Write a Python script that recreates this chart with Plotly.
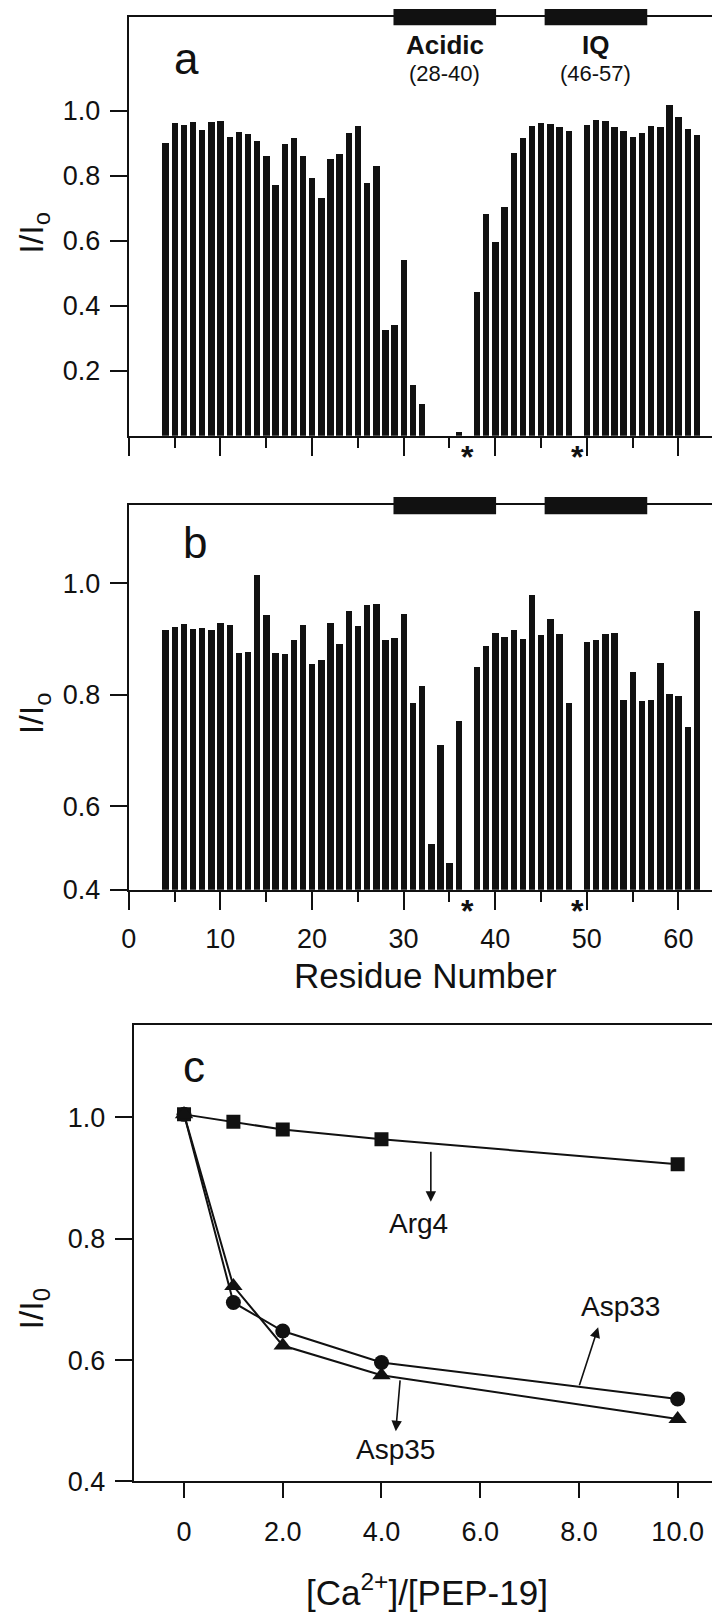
import plotly.graph_objects as go

# ---------------- data ----------------
residues_a = [4, 5, 6, 7, 8, 9, 10, 11, 12, 13, 14, 15, 16, 17, 18, 19, 20, 21, 22, 23,
              24, 25, 26, 27, 28, 29, 30, 31, 32, 36, 38, 39, 40, 41, 42, 43, 44, 45,
              46, 47, 48, 50, 51, 52, 53, 54, 55, 56, 57, 58, 59, 60, 61, 62]
values_a = [0.902, 0.963, 0.958, 0.966, 0.941, 0.965, 0.969, 0.920, 0.934, 0.930,
            0.908, 0.860, 0.771, 0.899, 0.917, 0.862, 0.794, 0.731, 0.851, 0.866,
            0.931, 0.954, 0.777, 0.831, 0.325, 0.340, 0.542, 0.157, 0.099, 0.012,
            0.443, 0.684, 0.595, 0.703, 0.869, 0.918, 0.954, 0.963, 0.961, 0.949,
            0.937, 0.958, 0.972, 0.969, 0.951, 0.938, 0.921, 0.933, 0.954, 0.949,
            1.019, 0.982, 0.945, 0.925]

residues_b = [4, 5, 6, 7, 8, 9, 10, 11, 12, 13, 14, 15, 16, 17, 18, 19, 20, 21, 22, 23,
              24, 25, 26, 27, 28, 29, 30, 31, 32, 33, 34, 35, 36, 38, 39, 40, 41, 42,
              43, 44, 45, 46, 47, 48, 50, 51, 52, 53, 54, 55, 56, 57, 58, 59, 60, 61, 62]
values_b = [0.915, 0.921, 0.926, 0.918, 0.919, 0.916, 0.928, 0.925, 0.875, 0.877,
            1.014, 0.942, 0.875, 0.873, 0.898, 0.925, 0.854, 0.862, 0.928, 0.891,
            0.950, 0.923, 0.961, 0.963, 0.897, 0.902, 0.944, 0.784, 0.815, 0.531,
            0.709, 0.498, 0.752, 0.849, 0.887, 0.910, 0.903, 0.915, 0.900, 0.979,
            0.906, 0.935, 0.908, 0.784, 0.894, 0.897, 0.909, 0.911, 0.790, 0.840,
            0.788, 0.790, 0.856, 0.801, 0.797, 0.742, 0.950]

asterisk_residues = [37, 49]

domain_names = ["Acidic", "IQ"]
domain_ranges = ["(28-40)", "(46-57)"]
domain_spans = [[28.9, 40.1], [45.4, 56.6]]

ratio = [0, 1, 2, 4, 10]
arg4 = [1.005, 0.993, 0.980, 0.964, 0.923]
asp33 = [1.005, 0.695, 0.648, 0.596, 0.536]
asp35 = [1.005, 0.722, 0.624, 0.575, 0.503]

ya_ticks = [0.2, 0.4, 0.6, 0.8, 1.0]
ya_text = ["0.2", "0.4", "0.6", "0.8", "1.0"]
yb_ticks = [0.45, 0.6, 0.8, 1.0]
yb_text = ["0.4", "0.6", "0.8", "1.0"]
yc_ticks = [0.4, 0.6, 0.8, 1.0]
yc_text = ["0.4", "0.6", "0.8", "1.0"]
xc_ticks = [0, 2, 4, 6, 8, 10]
xc_text = ["0", "2.0", "4.0", "6.0", "8.0", "10.0"]

# arrow annotations in panel c: label, head (x,y), tail (x,y), text position (x,y)
arrow_labels = ["Arg4", "Asp33", "Asp35"]
arrow_heads = [(5.0, 0.861), (8.39, 0.654), (4.29, 0.483)]
arrow_tails = [(5.0, 0.946), (8.0, 0.556), (4.38, 0.569)]
label_pos = [(4.75, 0.825), (8.85, 0.688), (4.29, 0.452)]

# ---------------- layout helpers ----------------
W, H = 720, 1616
FONT = "Liberation Sans, Arial, Helvetica, sans-serif"
BLACK = "#111111"


def px(y):
    return 1 - y / H


fig = go.Figure()

bar_style = dict(width=0.7, marker=dict(color=BLACK, line=dict(width=0)), showlegend=False,
                 hoverinfo="x+y")
fig.add_trace(go.Bar(x=residues_a, y=values_a, xaxis="x", yaxis="y", **bar_style))
fig.add_trace(go.Bar(x=residues_b, y=values_b, xaxis="x2", yaxis="y2", **bar_style))

line_style = dict(color=BLACK, width=2)
fig.add_trace(go.Scatter(x=ratio, y=arg4, mode="lines+markers", xaxis="x3", yaxis="y3",
                         line=line_style, marker=dict(symbol="square", size=14, color=BLACK),
                         name="Arg4"))
fig.add_trace(go.Scatter(x=ratio, y=asp33, mode="lines+markers", xaxis="x3", yaxis="y3",
                         line=line_style, marker=dict(symbol="circle", size=15, color=BLACK),
                         name="Asp33"))
fig.add_trace(go.Scatter(x=ratio, y=asp35, mode="lines+markers", xaxis="x3", yaxis="y3",
                         line=line_style, marker=dict(symbol="triangle-up", size=16, color=BLACK),
                         name="Asp35"))

axis_common = dict(showline=True, linewidth=2, linecolor=BLACK, mirror=True, showgrid=False,
                   zeroline=False, ticks="outside", tickwidth=2, tickcolor=BLACK,
                   tickfont=dict(family=FONT, size=27, color=BLACK))

xab = dict(range=[0, 65.2], tickmode="linear", tick0=0, dtick=10, ticklen=18,
           minor=dict(ticks="outside", ticklen=10, tickwidth=2, tickcolor=BLACK,
                      tick0=0, dtick=5))

fig.update_layout(
    width=W, height=H,
    margin=dict(l=0, r=0, t=0, b=0),
    paper_bgcolor="white", plot_bgcolor="white",
    showlegend=False,
    bargap=0,
    font=dict(family=FONT, size=26, color=BLACK),
    xaxis=dict(domain=[114 / W, 718 / W], anchor="y", showticklabels=False, **xab, **axis_common),
    yaxis=dict(domain=[px(431.7), px(9)], anchor="x", range=[0, 1.289], tickmode="array",
               tickvals=ya_ticks, ticktext=ya_text, ticklen=17, ticklabelstandoff=4,
               **axis_common),
    xaxis2=dict(domain=[114 / W, 718 / W], anchor="y2", showticklabels=True,
                ticklabelstandoff=6, **xab, **axis_common),
    yaxis2=dict(domain=[px(890), px(502)], anchor="x2", range=[0.45, 1.14], tickmode="array",
                tickvals=yb_ticks, ticktext=yb_text, ticklen=17, ticklabelstandoff=4,
                **axis_common),
    xaxis3=dict(domain=[119 / W, 716 / W], anchor="y3", range=[-1.02, 10.94], tickmode="array",
                tickvals=xc_ticks, ticktext=xc_text, ticklen=15, ticklabelstandoff=10,
                **axis_common),
    yaxis3=dict(domain=[px(1487.3), px(1026.7)], anchor="x3", range=[0.4, 1.152],
                tickmode="array", tickvals=yc_ticks, ticktext=yc_text, ticklen=17,
                ticklabelstandoff=4, **axis_common),
)

shapes = []
annotations = []

# domain bars on top border of panels a and b
for xr, (ytop, ybot) in (("x", (1, 17.5)), ("x2", (493.5, 511))):
    for span in domain_spans:
        shapes.append(dict(type="rect", xref=xr, yref="paper", x0=span[0], x1=span[1],
                           y0=px(ybot), y1=px(ytop), fillcolor=BLACK, line=dict(width=0),
                           layer="above"))

# domain labels (panel a)
for name, rng, span in zip(domain_names, domain_ranges, domain_spans):
    mid = (span[0] + span[1]) / 2
    annotations.append(dict(xref="x", yref="paper", x=mid, y=px(37), text="<b>%s</b>" % name,
                            showarrow=False, font=dict(family=FONT, size=26, color=BLACK),
                            xanchor="center", yanchor="middle"))
    annotations.append(dict(xref="x", yref="paper", x=mid, y=px(66), text=rng,
                            showarrow=False, font=dict(family=FONT, size=22, color=BLACK),
                            xanchor="center", yanchor="middle"))

# asterisks
for xr, ypix in (("x", 453), ("x2", 911)):
    for r in asterisk_residues:
        annotations.append(dict(xref=xr, yref="paper", x=r, y=px(ypix), text="<b>*</b>",
                                showarrow=False, font=dict(family=FONT, size=32, color=BLACK),
                                xanchor="center", yanchor="middle"))

# panel letters
for letter, (lx, ly) in zip(["a", "b", "c"], [(172, 51), (181, 540), (180, 1068)]):
    annotations.append(dict(xref="paper", yref="paper", x=lx / W, y=px(ly), text=letter,
                            showarrow=False, font=dict(family=FONT, size=44, color=BLACK),
                            xanchor="center", yanchor="middle"))

# y axis titles
for t, ly in (("I/I<sub>o</sub>", 227), ("I/I<sub>o</sub>", 712), ("I/I<sub>0</sub>", 1313)):
    annotations.append(dict(xref="paper", yref="paper", x=18 / W, y=px(ly), text=t,
                            textangle=-90, showarrow=False,
                            font=dict(family=FONT, size=34, color=BLACK),
                            xanchor="center", yanchor="middle"))

# x axis titles
annotations.append(dict(xref="paper", yref="paper", x=414 / W, y=px(977), text="Residue Number",
                        showarrow=False, font=dict(family=FONT, size=35, color=BLACK),
                        xanchor="center", yanchor="middle"))
annotations.append(dict(xref="paper", yref="paper", x=416 / W, y=px(1597),
                        text="[Ca<sup>2+</sup>]/[PEP-19]",
                        showarrow=False, font=dict(family=FONT, size=35, color=BLACK),
                        xanchor="center", yanchor="middle"))

# panel c arrows + labels
for lab, head, tail, lp in zip(arrow_labels, arrow_heads, arrow_tails, label_pos):
    annotations.append(dict(xref="x3", yref="y3", x=head[0], y=head[1], ax=tail[0], ay=tail[1],
                            axref="x3", ayref="y3", text="", showarrow=True, arrowhead=2,
                            arrowsize=1.3, arrowwidth=1.6, arrowcolor=BLACK, standoff=0,
                            startstandoff=0))
    annotations.append(dict(xref="x3", yref="y3", x=lp[0], y=lp[1], text=lab, showarrow=False,
                            font=dict(family=FONT, size=28, color=BLACK),
                            xanchor="center", yanchor="middle"))

fig.update_layout(shapes=shapes, annotations=annotations)

fig.write_html("out.html")
